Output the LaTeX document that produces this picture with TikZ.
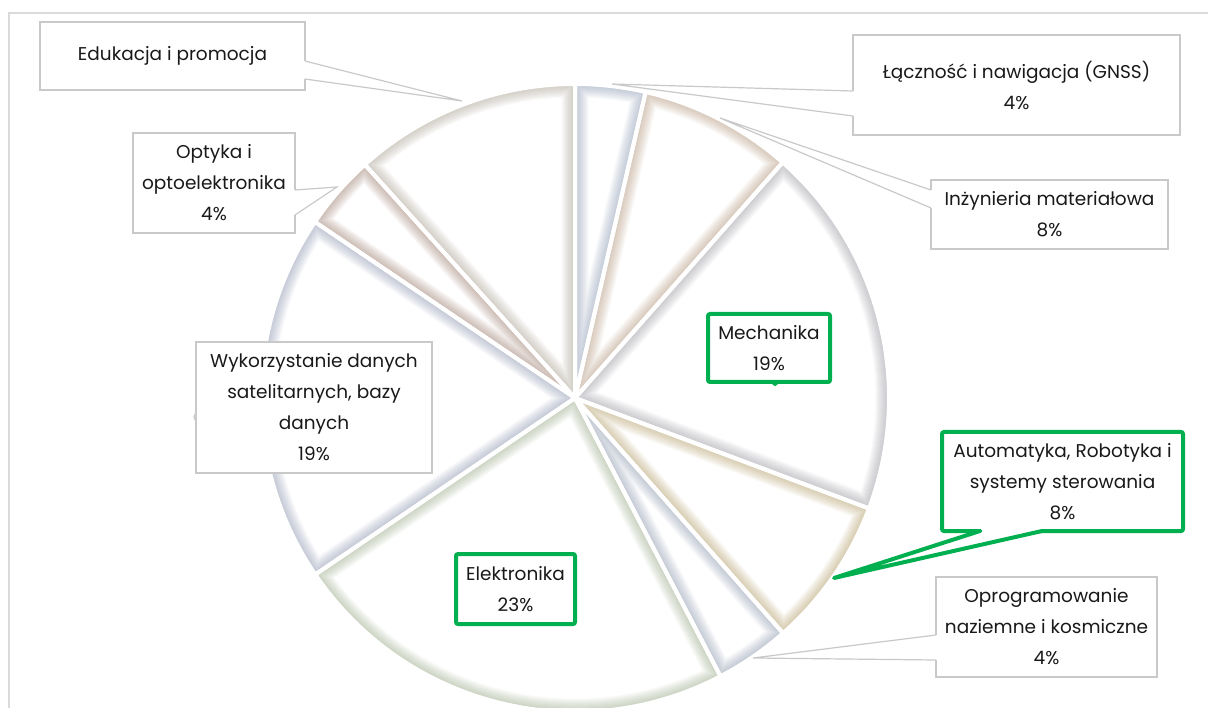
\documentclass[tikz,border=0pt]{standalone}
\usepackage{fontspec}
\setmainfont{Poppins}
\usetikzlibrary{calc}
\definecolor{boxgray}{HTML}{C9C9C9}
\definecolor{framegray}{HTML}{DADADA}
\definecolor{grn}{HTML}{00B050}
\definecolor{gLacz}{HTML}{8E9DB8}
\definecolor{gInz}{HTML}{B8987C}
\definecolor{gMech}{HTML}{9C9CA6}
\definecolor{gAuto}{HTML}{B8A068}
\definecolor{gOprog}{HTML}{8E9AB0}
\definecolor{gElek}{HTML}{9CAE8A}
\definecolor{gWyk}{HTML}{8E98B4}
\definecolor{gOpt}{HTML}{9E7E6E}
\definecolor{gEdu}{HTML}{ACA494}
\tikzset{
  lbl/.style={font=\fontsize{18.5}{31}\selectfont, align=center, text=black!90},
  callbox/.style={lbl, draw=boxgray, line width=1.2pt, fill=white, inner sep=0pt},
  greenbox/.style={lbl, draw=grn, line width=4pt, fill=white, rounded corners=2pt, inner sep=0pt},
  ptr/.style={draw=boxgray, line width=1.2pt, line join=miter},
  gptr/.style={draw=grn, line width=4pt, line join=round, line cap=round},
}
\newcommand{\sliceglow}[3]{%
  \begin{scope}
    \clip (C) -- ++(#1:314) arc[start angle=#1, end angle=#2, radius=314] -- cycle;
    \foreach \w in {5,7,...,27}{
      \draw[#3, line width=\w pt, opacity=0.05, line join=round] (C) -- ++(#1:314) arc[start angle=#1, end angle=#2, radius=314] -- cycle;
    }
  \end{scope}}
\newcommand{\sliceedge}[2]{%
  \draw[white, line width=4pt, line join=round] (C) -- ++(#1:314) arc[start angle=#1, end angle=#2, radius=314] -- cycle;}
\begin{document}
\begin{tikzpicture}[x=1pt, y=-1pt]
\useasboundingbox (0,0) rectangle (1208,708);
\fill[white] (0,0) rectangle (1208,708);
% frame
\draw[framegray, line width=1.5pt] (9,708) -- (9,13) -- (1208,13);
% pie
\coordinate (C) at (575,398);
\sliceglow{-90}{-77}{gLacz}
\sliceglow{-77}{-48.6}{gInz}
\sliceglow{-48.6}{20.6}{gMech}
\sliceglow{20.6}{48.5}{gAuto}
\sliceglow{48.5}{62.4}{gOprog}
\sliceglow{62.4}{145.8}{gElek}
\sliceglow{145.8}{214.1}{gWyk}
\sliceglow{214.1}{228}{gOpt}
\sliceglow{228}{270}{gEdu}
\sliceedge{-90}{-77}
\sliceedge{-77}{-48.6}
\sliceedge{-48.6}{20.6}
\sliceedge{20.6}{48.5}
\sliceedge{48.5}{62.4}
\sliceedge{62.4}{145.8}
\sliceedge{145.8}{214.1}
\sliceedge{214.1}{228}
\sliceedge{228}{270}
% callouts
\node[callbox, minimum width=265pt, minimum height=68pt] (edu) at (172.5,56) {Edukacja i promocja};
\coordinate (eduA) at (305,61); \coordinate (eduB) at (305,79); \coordinate (eduT) at (462,101);
\fill[white] ($(eduA)+(-1.5,0)$) -- (eduA) -- (eduT) -- (eduB) -- ($(eduB)+(-1.5,0)$) -- cycle;
\draw[ptr] (eduA) -- (eduT) -- (eduB);

\node[callbox, minimum width=327pt, minimum height=100pt] (lacz) at (1016.5,85) {Łączność i nawigacja (GNSS)\\4\%};
\coordinate (laczA) at (853,91); \coordinate (laczB) at (853,116); \coordinate (laczT) at (612,84);
\fill[white] ($(laczA)+(1.5,0)$) -- (laczA) -- (laczT) -- (laczB) -- ($(laczB)+(1.5,0)$) -- cycle;
\draw[ptr] (laczA) -- (laczT) -- (laczB);

\node[callbox, minimum width=237pt, minimum height=69pt] (inz) at (1049.5,214.5) {Inżynieria materiałowa\\8\%};
\coordinate (inzA) at (931,190); \coordinate (inzB) at (931,208); \coordinate (inzT) at (720,118);
\fill[white] ($(inzA)+(1.5,0)$) -- (inzA) -- (inzT) -- (inzB) -- ($(inzB)+(1.5,0)$) -- cycle;
\draw[ptr] (inzA) -- (inzT) -- (inzB);

\node[callbox, minimum width=162pt, minimum height=100pt] (opt) at (214,183) {Optyka i\\optoelektronika\\4\%};
\coordinate (optA) at (295,190); \coordinate (optB) at (295,215); \coordinate (optT) at (337,187);
\fill[white] ($(optA)+(-1.5,0)$) -- (optA) -- (optT) -- (optB) -- ($(optB)+(-1.5,0)$) -- cycle;
\draw[ptr] (optA) -- (optT) -- (optB);

\node[callbox, minimum width=236pt, minimum height=131pt] (wyk) at (314,407.5) {Wykorzystanie danych\\satelitarnych, bazy\\danych\\19\%};
\coordinate (wykA) at (196,412); \coordinate (wykB) at (196,422); \coordinate (wykT) at (194,417);
\draw[ptr] (wykA) -- (wykT) -- (wykB);

\node[callbox, minimum width=221pt, minimum height=100pt] (oprog) at (1046.5,627) {Oprogramowanie\\naziemne i kosmiczne\\4\%};
\coordinate (oprogA) at (936,635); \coordinate (oprogB) at (936,660); \coordinate (oprogT) at (753,658);
\fill[white] ($(oprogA)+(1.5,0)$) -- (oprogA) -- (oprogT) -- (oprogB) -- ($(oprogB)+(1.5,0)$) -- cycle;
\draw[ptr] (oprogA) -- (oprogT) -- (oprogB);

\node[greenbox, minimum width=122pt, minimum height=68pt] (mech) at (769,348) {Mechanika\\19\%};
\coordinate (mechA) at (771,382); \coordinate (mechB) at (779,382); \coordinate (mechT) at (775,385);
\draw[grn, line width=2pt] (mechA) -- (mechT) -- (mechB);

\node[greenbox, minimum width=241pt, minimum height=99pt] (auto) at (1062.5,481.5) {Automatyka, Robotyka i\\systemy sterowania\\8\%};
\coordinate (autoA) at (980,531); \coordinate (autoB) at (1042,531); \coordinate (autoT) at (834,578);
\fill[white] ($(autoA)+(0,-2)$) -- (autoA) -- (autoT) -- (autoB) -- ($(autoB)+(0,-2)$) -- cycle;
\draw[gptr] (autoA) -- (autoT) -- (autoB);

\node[greenbox, minimum width=119pt, minimum height=70pt] (elek) at (515.5,589) {Elektronika\\23\%};
\end{tikzpicture}
\end{document}
